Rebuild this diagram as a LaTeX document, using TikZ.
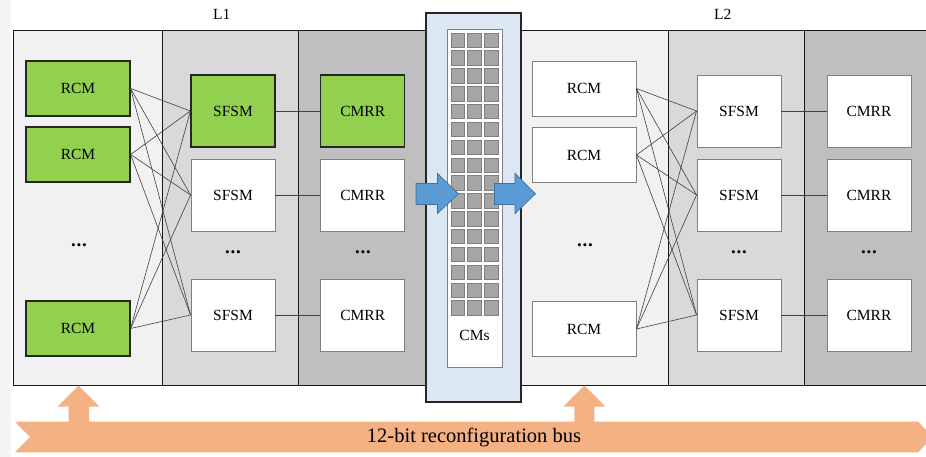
\documentclass[tikz,border=0pt]{standalone}
\usepackage{fontspec}
\setmainfont{Liberation Serif}

\definecolor{laneA}{HTML}{F1F1F1}
\definecolor{laneB}{HTML}{D9D9D9}
\definecolor{laneC}{HTML}{BFBFBF}
\definecolor{margin}{HTML}{F4F4F4}
\definecolor{cmpanel}{HTML}{DCE7F4}
\definecolor{cellfill}{HTML}{A6A6A6}
\definecolor{cellline}{HTML}{7F7F7F}
\definecolor{boxgray}{HTML}{7F7F7F}
\definecolor{activegreen}{HTML}{92D050}
\definecolor{flowblue}{HTML}{5B9BD5}
\definecolor{flowblueline}{HTML}{41719C}
\definecolor{busorange}{HTML}{F4B183}

\begin{document}
\begin{tikzpicture}[x=1pt,y=-1pt,
  lbl/.style={font=\fontsize{15.5}{18}\selectfont},
  unit/.style={lbl, draw=boxgray, line width=0.9pt, fill=white, inner sep=0pt},
  active/.style={draw=black!85, line width=1.2pt, fill=activegreen},
  rcmbox/.style={unit, minimum width=104pt, minimum height=55pt},
  fsmbox/.style={unit, minimum width=84pt, minimum height=72pt},
  wire/.style={draw=black!75, line width=0.6pt},
  frame/.style={draw=black!90, line width=1pt},
  dots/.style={font=\fontsize{19}{22}\selectfont\bfseries, inner sep=0pt},
  flow/.style={fill=flowblue, draw=flowblueline, line width=0.7pt},
  cell/.style={fill=cellfill, draw=cellline, line width=0.7pt}]

\useasboundingbox (0,0) rectangle (926,457);
\clip (0,0) rectangle (926,457);
\fill[margin] (0,0) rectangle (11,457);

% lanes of the two layers
\fill[laneA] (13,31) rectangle (162,385);
\fill[laneB] (162,31) rectangle (298,385);
\fill[laneC] (298,31) rectangle (426,385);
\fill[laneA] (521,31) rectangle (668,385);
\fill[laneB] (668,31) rectangle (804,385);
\fill[laneC] (804,31) rectangle (940,385);
\draw[frame] (13,31) rectangle (940,385);
\draw[frame] (162,31) -- (162,385);
\draw[frame] (298,31) -- (298,385);
\draw[frame] (668,31) -- (668,385);
\draw[frame] (804,31) -- (804,385);

\node[lbl] (l1) at (221.7,14) {L1};
\node[lbl] (l2) at (722.7,14) {L2};

% layer L1
\node[rcmbox, active] (ra1) at (78,88.5) {RCM};
\node[rcmbox, active] (ra2) at (78,154.5) {RCM};
\node[rcmbox, active] (ra3) at (78,328.5) {RCM};
\node[fsmbox, active] (sa1) at (233,111) {SFSM};
\node[fsmbox] (sa2) at (233,195) {SFSM};
\node[fsmbox] (sa3) at (233,315) {SFSM};
\node[fsmbox, active] (ca1) at (362.7,111) {CMRR};
\node[fsmbox] (ca2) at (362.7,195) {CMRR};
\node[fsmbox] (ca3) at (362.7,315) {CMRR};
\node[dots] (da1) at (79,245) {.\kern0.8pt.\kern0.8pt.};
\node[dots] (da2) at (233,252.5) {.\kern0.8pt.\kern0.8pt.};
\node[dots] (da3) at (363,252.5) {.\kern0.8pt.\kern0.8pt.};

% layer L2
\node[rcmbox] (rb1) at (584,88.5) {RCM};
\node[rcmbox] (rb2) at (584,155) {RCM};
\node[rcmbox] (rb3) at (584,329) {RCM};
\node[fsmbox] (sb1) at (739,111) {SFSM};
\node[fsmbox] (sb2) at (739,195) {SFSM};
\node[fsmbox] (sb3) at (739,315) {SFSM};
\node[fsmbox] (cb1) at (869,111) {CMRR};
\node[fsmbox] (cb2) at (869,195) {CMRR};
\node[fsmbox] (cb3) at (869,315) {CMRR};
\node[dots] (db1) at (585,245) {.\kern0.8pt.\kern0.8pt.};
\node[dots] (db2) at (739,252.5) {.\kern0.8pt.\kern0.8pt.};
\node[dots] (db3) at (869,252.5) {.\kern0.8pt.\kern0.8pt.};

% crossbar RCM -> SFSM and SFSM -> CMRR links
\foreach \l in {a,b}{
  \foreach \i in {1,2,3}{
    \foreach \j in {1,2,3}{
      \draw[wire] (r\l\i.east) -- (s\l\j.west);
    }
    \draw[wire] (s\l\i.east) -- (c\l\i.west);
  }
}

% configuration memory column
\draw[fill=cmpanel, draw=black!85, line width=1.4pt] (426,13) rectangle (521,402);
\node[draw=boxgray, line width=0.8pt, fill=white, minimum width=55pt, minimum height=338pt, inner sep=0pt] (cmframe) at (474.5,198) {};
\foreach \r in {0,...,15}{
  \foreach \c in {0,1,2}{
    \draw[cell] ({451+16.7*\c},{33+17.85*\r}) rectangle ++(13.6,14.4);
  }
}
\node[lbl] (cms) at (474.5,335) {CMs};

% data flow through the memory column
\filldraw[flow] (416,183.5) -- (437.5,183.5) -- (437.5,173.5) -- (458.5,193.8)
  -- (437.5,213.5) -- (437.5,204.5) -- (416,204.5) -- cycle;
\filldraw[flow] (494.5,183.5) -- (515,183.5) -- (515,173.5) -- (535.5,193.8)
  -- (515,213.5) -- (515,204.5) -- (494.5,204.5) -- cycle;

% reconfiguration bus
\fill[busorange] (15,421.7) -- (918,421.7) -- (933,437) -- (918,452.3)
  -- (15,452.3) -- (30,437) -- cycle;
\fill[busorange] (68.5,422) -- (68.5,406.5) -- (57.5,406.5) -- (78.5,385.5)
  -- (99.5,406.5) -- (89,406.5) -- (89,422) -- cycle;
\fill[busorange] (574.3,422) -- (574.3,406.5) -- (563.3,406.5) -- (584.3,385.5)
  -- (605.3,406.5) -- (594.3,406.5) -- (594.3,422) -- cycle;
\node[font=\fontsize{20.5}{24}\selectfont] (bus) at (474,437) {12-bit reconfiguration bus};

\end{tikzpicture}
\end{document}
